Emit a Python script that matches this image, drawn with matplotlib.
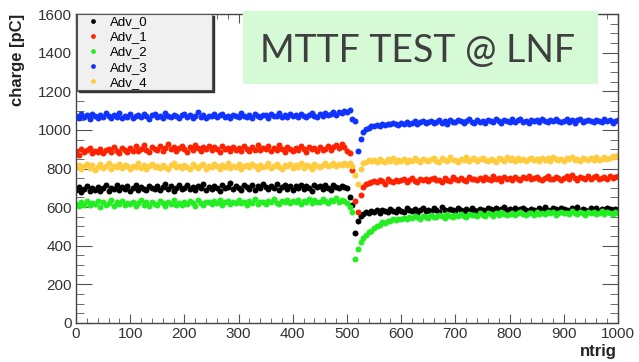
import numpy as np
import matplotlib.pyplot as plt
from matplotlib.patches import Rectangle

plt.rcParams['font.family'] = ['Liberation Sans', 'DejaVu Sans']

# ntrig sampled every 5 triggers
ntrig = np.arange(0, 1001, 5)

adv_0 = [688, 702, 679, 695, 710, 684, 698, 691, 706, 681,
         697, 713, 686, 700, 692, 717, 689, 704, 695, 708,
         683, 699, 714, 690, 705, 696, 688, 711, 701, 693,
         707, 689, 702, 719, 694, 710, 685, 699, 713, 696,
         701, 715, 692, 706, 688, 709, 698, 721, 690, 703,
         694, 710, 700, 686, 712, 697, 705, 724, 693, 708,
         699, 687, 713, 703, 695, 716, 690, 707, 700, 718,
         705, 692, 710, 698, 722, 689, 704, 714, 696, 709,
         691, 707, 700, 717, 694, 711, 699, 686, 712, 703,
         708, 695, 713, 701, 690, 716, 704, 697, 711, 702,
         698, 655, 612, 468, 528, 553, 566, 574, 570, 579,
         576, 583, 571, 586, 579, 574, 588, 581, 577, 590,
         582, 575, 593, 584, 578, 589, 572, 586, 595, 580,
         587, 579, 594, 583, 576, 599, 585, 578, 591, 584,
         580, 593, 586, 575, 590, 582, 597, 584, 579, 592,
         585, 578, 596, 588, 581, 594, 577, 590, 600, 583,
         589, 581, 594, 576, 588, 598, 584, 579, 592, 586,
         580, 595, 587, 601, 583, 577, 593, 588, 582, 596,
         590, 584, 578, 594, 587, 599, 581, 592, 586, 580,
         593, 585, 597, 582, 590, 579, 595, 588, 583, 591,
         586]

adv_1 = [889, 872, 901, 884, 895, 908, 878, 893, 886, 899,
         881, 896, 903, 887, 910, 892, 879, 905, 898, 884,
         907, 893, 915, 889, 900, 921, 895, 886, 912, 902,
         896, 918, 890, 905, 927, 899, 911, 893, 904, 916,
         901, 888, 913, 897, 920, 906, 892, 909, 899, 915,
         894, 910, 903, 887, 918, 900, 908, 891, 912, 897,
         906, 893, 916, 902, 889, 911, 898, 920, 895, 905,
         899, 914, 891, 907, 896, 922, 903, 888, 910, 901,
         893, 908, 897, 915, 902, 886, 911, 899, 905, 892,
         909, 896, 903, 917, 894, 912, 921, 905, 926, 913,
         890, 878, 792, 630, 575, 665, 702, 718, 726, 731,
         735, 728, 740, 733, 722, 744, 737, 729, 741, 734,
         738, 746, 731, 742, 750, 736, 729, 745, 739, 748,
         733, 744, 752, 738, 741, 730, 749, 743, 736, 755,
         746, 739, 751, 742, 735, 757, 744, 748, 738, 752,
         741, 756, 747, 739, 760, 745, 751, 737, 754, 748,
         750, 742, 758, 746, 739, 755, 749, 761, 744, 751,
         757, 745, 740, 753, 762, 748, 744, 756, 750, 741,
         752, 759, 746, 764, 749, 743, 757, 751, 745, 760,
         748, 755, 763, 746, 752, 758, 744, 761, 750, 756,
         762]

adv_2 = [618, 606, 627, 612, 633, 609, 621, 615, 630, 603,
         624, 611, 619, 635, 607, 626, 614, 631, 610, 622,
         616, 629, 605, 620, 637, 613, 625, 608, 628, 617,
         611, 632, 620, 606, 626, 618, 635, 612, 623, 609,
         627, 615, 631, 621, 608, 636, 619, 613, 629, 624,
         614, 630, 622, 638, 611, 625, 633, 617, 628, 620,
         635, 619, 627, 612, 631, 623, 640, 616, 629, 625,
         618, 634, 626, 641, 622, 615, 632, 628, 637, 621,
         630, 624, 639, 617, 633, 627, 644, 622, 635, 629,
         626, 641, 632, 620, 638, 630, 645, 628, 636, 633,
         622, 600, 576, 332, 384, 418, 441, 456, 472, 478,
         490, 502, 510, 521, 518, 530, 528, 536, 533, 541,
         538, 546, 540, 549, 543, 552, 547, 541, 555, 550,
         545, 557, 551, 548, 560, 553, 546, 562, 556, 550,
         558, 552, 564, 555, 549, 566, 557, 561, 553, 568,
         560, 555, 570, 562, 556, 567, 559, 573, 563, 557,
         566, 572, 560, 569, 575, 563, 558, 571, 567, 561,
         574, 565, 570, 562, 577, 568, 573, 560, 569, 576,
         567, 572, 563, 578, 570, 565, 575, 568, 561, 573,
         569, 576, 564, 571, 579, 566, 573, 568, 562, 575,
         570]

adv_3 = [1072, 1061, 1080, 1068, 1077, 1058, 1083, 1070, 1064, 1079,
         1066, 1085, 1071, 1059, 1076, 1069, 1088, 1063, 1074, 1067,
         1081, 1060, 1073, 1078, 1065, 1084, 1070, 1057, 1075, 1080,
         1068, 1074, 1062, 1086, 1071, 1066, 1079, 1073, 1060, 1077,
         1083, 1069, 1075, 1064, 1072, 1090, 1067, 1078, 1061, 1074,
         1070, 1080, 1065, 1076, 1084, 1068, 1073, 1062, 1079, 1071,
         1066, 1085, 1074, 1069, 1077, 1063, 1082, 1072, 1067, 1078,
         1075, 1064, 1081, 1070, 1073, 1087, 1068, 1076, 1065, 1080,
         1071, 1079, 1066, 1083, 1074, 1069, 1077, 1085, 1072, 1068,
         1080, 1074, 1088, 1076, 1083, 1091, 1079, 1095, 1086, 1100,
         1092, 1104, 1058, 1045, 890, 955, 988, 1004, 1012, 1018,
         1022, 1027, 1019, 1031, 1025, 1033, 1028, 1036, 1030, 1026,
         1038, 1032, 1041, 1029, 1035, 1044, 1031, 1039, 1046, 1034,
         1040, 1048, 1036, 1043, 1051, 1037, 1045, 1033, 1049, 1042,
         1039, 1052, 1044, 1036, 1047, 1055, 1041, 1038, 1050, 1043,
         1046, 1035, 1053, 1044, 1040, 1057, 1048, 1037, 1051, 1045,
         1042, 1054, 1039, 1049, 1058, 1043, 1047, 1036, 1052, 1046,
         1050, 1041, 1056, 1045, 1039, 1053, 1048, 1055, 1044, 1040,
         1047, 1058, 1043, 1051, 1037, 1049, 1054, 1042, 1046, 1052,
         1044, 1039, 1053, 1048, 1041, 1056, 1045, 1050, 1038, 1047,
         1051]

adv_4 = [808, 819, 797, 813, 825, 802, 816, 794, 810, 821,
         805, 812, 826, 799, 815, 808, 822, 803, 817, 811,
         796, 814, 809, 828, 804, 818, 800, 812, 824, 807,
         815, 801, 820, 810, 795, 817, 829, 806, 813, 802,
         819, 808, 797, 823, 811, 804, 816, 825, 800, 814,
         806, 821, 812, 799, 818, 809, 827, 803, 815, 810,
         822, 800, 813, 817, 806, 825, 811, 798, 819, 808,
         812, 826, 804, 815, 821, 807, 799, 818, 813, 824,
         803, 816, 810, 828, 805, 819, 812, 800, 822, 814,
         809, 820, 826, 811, 817, 831, 814, 823, 818, 828,
         820, 826, 815, 768, 722, 798, 828, 836, 842, 838,
         845, 835, 850, 841, 832, 847, 839, 853, 836, 844,
         840, 851, 833, 846, 838, 855, 842, 834, 849, 843,
         837, 848, 856, 841, 835, 852, 844, 839, 857, 846,
         842, 834, 850, 845, 858, 838, 847, 853, 840, 849,
         855, 843, 838, 851, 846, 836, 854, 848, 841, 859,
         845, 852, 839, 856, 843, 850, 837, 848, 853, 844,
         849, 838, 855, 846, 852, 841, 858, 847, 842, 851,
         840, 853, 847, 859, 844, 850, 838, 855, 849, 845,
         852, 846, 857, 843, 851, 861, 848, 855, 864, 858,
         868]

names = ['Adv_0', 'Adv_1', 'Adv_2', 'Adv_3', 'Adv_4']
colors = ['#000000', '#ff2200', '#22ee22', '#1133ff', '#ffcc40']
series = [adv_0, adv_1, adv_2, adv_3, adv_4]

fig = plt.figure(figsize=(6.39, 3.62), dpi=100)
ax = fig.add_axes([76/639, 1 - 323/362, 542/639, 309/362])

for name, col, vals in zip(names, colors, series):
    ax.plot(ntrig, vals, 'o', ms=4.3, mec='none', color=col, label=name)

ax.set_xlim(0, 1000)
ax.set_ylim(0, 1600)
ax.set_xticks(np.arange(0, 1001, 100))
ax.set_xticks(np.arange(0, 1001, 20), minor=True)
ax.set_yticks(np.arange(0, 1601, 200))
ax.set_yticks(np.arange(0, 1601, 50), minor=True)
ax.tick_params(which='both', direction='in', top=True, right=True,
               color='#555555', labelsize=11, labelcolor='#333333')
ax.tick_params(axis='y', which='major', length=11.5, pad=3)
ax.tick_params(axis='y', which='minor', length=5.8)
ax.tick_params(axis='x', which='major', length=6.5, pad=3)
ax.tick_params(axis='x', which='minor', length=3.3)
for s in ax.spines.values():
    s.set_color('#444444')
    s.set_linewidth(1.0)

fig.text(18/639, 1 - 14/362, 'charge [pC]', rotation=90, ha='center',
         va='top', fontsize=12, fontweight='bold', color='#222222')
fig.text(617/639, 1 - 356/362, 'ntrig', ha='right', va='baseline',
         fontsize=12, fontweight='bold', color='#222222')

# legend box with shadow
x0, x1 = 1/542, 136/542
y0 = 1 - 76/309
ax.add_patch(Rectangle((x0 + 2/542, y0 - 2/309), x1 - x0, 1 - y0,
                       transform=ax.transAxes, color='#333333',
                       clip_on=False, zorder=4))
ax.add_patch(Rectangle((x0, y0), x1 - x0, 1 - y0, transform=ax.transAxes,
                       facecolor='#f0f0f0', edgecolor='#555555', lw=0.8,
                       clip_on=False, zorder=5))
leg = ax.legend(loc='upper left', bbox_to_anchor=(x0, 1.0), frameon=False,
                fontsize=9.5, borderpad=0.15, labelspacing=0.22,
                handlelength=2.1, handletextpad=0.26, borderaxespad=0,
                markerscale=0.8)
leg.set_zorder(6)

# title banner
fig.patches.append(Rectangle((243/639, 1 - 83/362), 354/639, 72/362,
                             transform=fig.transFigure, color='#d6f9d6',
                             zorder=2))
fig.text(418/639, 1 - 51/362, 'MTTF TEST @ LNF', ha='center', va='center',
         fontsize=27, family='Lato', color='#3f3f3f', zorder=3)

plt.savefig('out.png', dpi=100)
